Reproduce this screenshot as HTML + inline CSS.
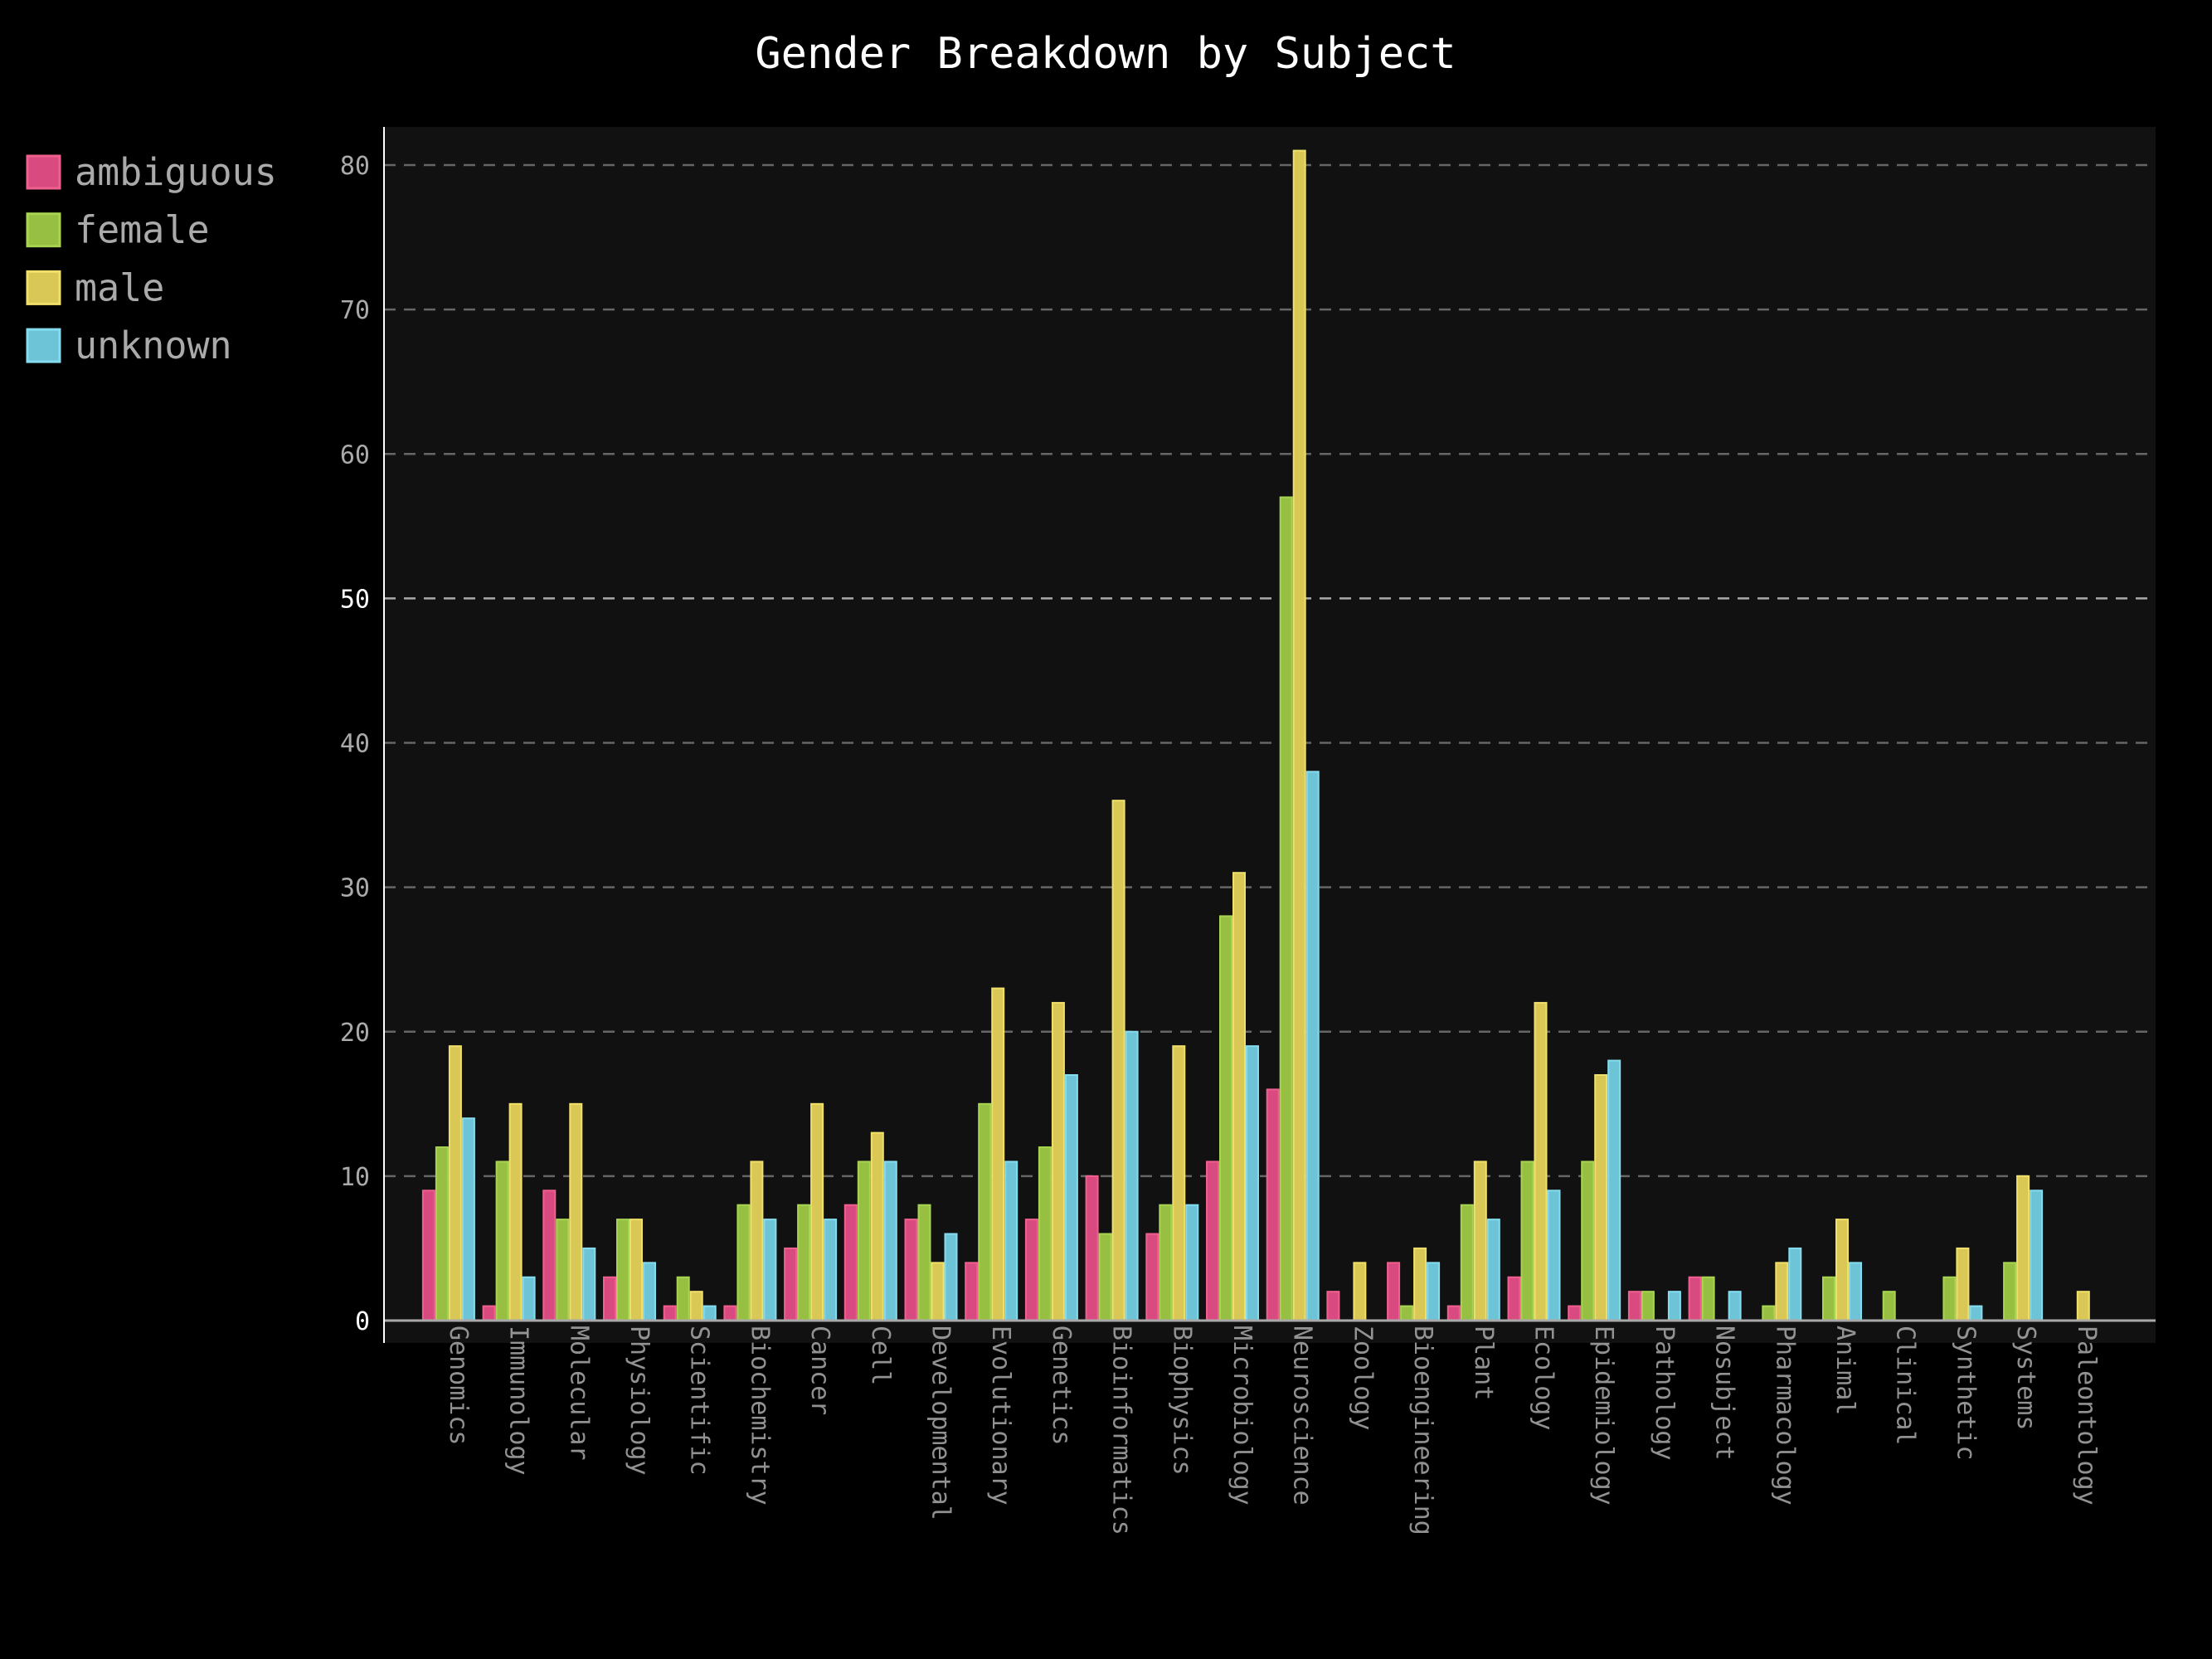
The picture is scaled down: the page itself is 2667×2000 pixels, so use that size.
<!DOCTYPE html>
<html><head><meta charset="utf-8"><style>
html,body{margin:0;padding:0;background:#000;}
svg{display:block;font-family:"DejaVu Sans Mono","Liberation Mono",monospace;}
</style></head><body>
<svg id="chart" width="2667" height="2000" viewBox="0 0 2667 2000">
<rect x="0" y="0" width="2667" height="2000" fill="#000"/>
<text x="1333" y="82" fill="#fff" font-size="52" text-anchor="middle">Gender Breakdown by Subject</text>
<rect x="463" y="153" width="2136" height="1466" fill="#111"/>
<g id="grid"></g>
<g id="bars"></g>
<g id="xlabels"></g>
<line x1="463" y1="153" x2="463" y2="1619" stroke="#fff" stroke-width="2"/>
<g id="legend"></g>
</svg>
<script>
const categories = ["Genomics","Immunology","Molecular","Physiology","Scientific","Biochemistry","Cancer","Cell","Developmental","Evolutionary","Genetics","Bioinformatics","Biophysics","Microbiology","Neuroscience","Zoology","Bioengineering","Plant","Ecology","Epidemiology","Pathology","Nosubject","Pharmacology","Animal","Clinical","Synthetic","Systems","Paleontology"];
const ambiguous = [9,1,9,3,1,1,5,8,7,4,7,10,6,11,16,2,4,1,3,1,2,3,0,0,0,0,0,0];
const female    = [12,11,7,7,3,8,8,11,8,15,12,6,8,28,57,0,1,8,11,11,2,3,1,3,2,3,4,0];
const male      = [19,15,15,7,2,11,15,13,4,23,22,36,19,31,81,4,5,11,22,17,0,0,4,7,0,5,10,2];
const unknown   = [14,3,5,4,1,7,7,11,6,11,17,20,8,19,38,0,4,7,9,18,2,2,5,4,0,1,9,0];
const seriesNames = ["ambiguous","female","male","unknown"];
const yTicks = [0,10,20,30,40,50,60,70,80];

const seriesData = [ambiguous, female, male, unknown];
const colors = ["#d94a80","#97c043","#d9c856","#6ec4d7"];
const strokes = ["#f0608f","#a8d452","#f0e06a","#86dcef"];
const NS = "http://www.w3.org/2000/svg";
const y0 = 1592, yScale = (1592 - 199) / 80;
function yPos(v){ return y0 - v * yScale; }
const groupW = 72.7, xStart = 504.5, barW = 16, barPad = 4.4;
function xGroup(i){ return xStart + i * groupW; }

const grid = document.getElementById('grid');
yTicks.forEach(t => {
  const y = yPos(t);
  if (t > 0) {
    const l = document.createElementNS(NS,'line');
    
    
    l.setAttribute('x1', 463); l.setAttribute('x2', 2599);
    l.setAttribute('y1', y); l.setAttribute('y2', y);
    l.setAttribute('stroke', t === 50 ? '#aaa' : '#666');
    l.setAttribute('stroke-width', 2.5);
    l.setAttribute('stroke-dasharray', '14,10');
    grid.appendChild(l);
  }
  const tx = document.createElementNS(NS,'text');
  
  
  tx.setAttribute('x', 446); tx.setAttribute('y', y + 11);
  tx.setAttribute('text-anchor', 'end');
  tx.setAttribute('font-size', 30);
  tx.setAttribute('fill', t === 50 || t === 0 ? '#fff' : '#aaa');
  tx.textContent = t;
  grid.appendChild(tx);
});

const bars = document.getElementById('bars');
seriesData.forEach((arr, s) => {
  arr.forEach((v, i) => {
    if (v <= 0) return;
    const r = document.createElementNS(NS,'rect');
    
    
    const x = xGroup(i) + barPad + s * barW;
    r.setAttribute('x', x + 1); r.setAttribute('width', barW - 2);
    r.setAttribute('y', yPos(v)); r.setAttribute('height', y0 - yPos(v));
    r.setAttribute('fill', colors[s]);
    r.setAttribute('stroke', strokes[s]);
    r.setAttribute('stroke-width', 2);
    bars.appendChild(r);
  });
});
const zl = document.createElementNS(NS,'line');


zl.setAttribute('x1', 463); zl.setAttribute('x2', 2599);
zl.setAttribute('y1', y0); zl.setAttribute('y2', y0);
zl.setAttribute('stroke', '#aaa'); zl.setAttribute('stroke-width', 3);
bars.appendChild(zl);

const xl = document.getElementById('xlabels');
categories.forEach((c, i) => {
  const cx = xGroup(i) + groupW / 2 + 2;
  const t = document.createElementNS(NS,'text');
  
  
  t.setAttribute('transform', 'translate(' + cx + ',1598) rotate(90)');
  t.setAttribute('font-size', 30);
  t.setAttribute('fill', '#aaa');
  t.setAttribute('fill-opacity', '0.85');
  t.textContent = c;
  xl.appendChild(t);
});

const lg = document.getElementById('legend');
seriesNames.forEach((n, s) => {
  const cy = 208 + s * 69.7;
  const r = document.createElementNS(NS,'rect');
  
  
  r.setAttribute('x', 33); r.setAttribute('y', cy - 20);
  r.setAttribute('width', 39); r.setAttribute('height', 39);
  r.setAttribute('fill', colors[s]); r.setAttribute('stroke', strokes[s]); r.setAttribute('stroke-width', 3);
  lg.appendChild(r);
  const t = document.createElementNS(NS,'text');
  
  
  t.setAttribute('x', 90); t.setAttribute('y', cy + 15);
  t.setAttribute('font-size', 45); t.setAttribute('fill', '#aaa');
  t.textContent = n;
  lg.appendChild(t);
});
</script>
</body></html>
